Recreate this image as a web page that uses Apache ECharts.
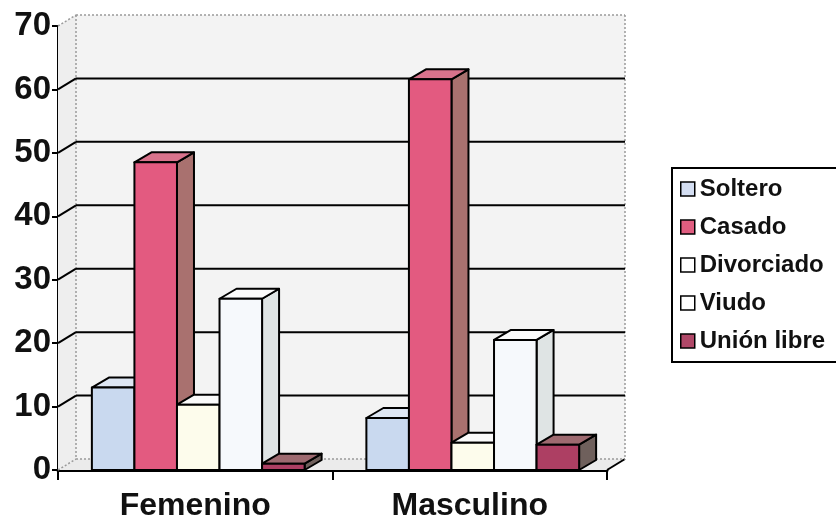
<!DOCTYPE html>
<html>
<head>
<meta charset="utf-8">
<script src="https://cdn.jsdelivr.net/npm/echarts@6/dist/echarts.min.js"></script>
<style>html,body{margin:0;padding:0;background:#fff;}#c{width:836px;height:525px;}</style>
</head>
<body>
<div id="c"></div>
<script>
const categories = ['Femenino', 'Masculino'];
const seriesNames = ['Soltero', 'Casado', 'Divorciado', 'Viudo', 'Unión libre'];
const soltero = [13, 8.2];
const casado = [48.5, 61.6];
const divorciado = [10.3, 4.3];
const viudo = [27, 20.5];
const unionLibre = [1, 4];
const yTicks = [0, 10, 20, 30, 40, 50, 60, 70];

const seriesValues = [soltero, casado, divorciado, viudo, unionLibre];
const faceColors = [
  {front: '#c9d9ef', top: '#dde6f3', side: '#b8c6d8', legend: '#d4def2'},
  {front: '#e35a80', top: '#d9738c', side: '#a9716f', legend: '#e05d80'},
  {front: '#fdfcec', top: '#fafafa', side: '#e6e6e6', legend: '#ffffff'},
  {front: '#f6f9fc', top: '#fbfbfb', side: '#dfe4e4', legend: '#ffffff'},
  {front: '#ad3f63', top: '#9e6a70', side: '#6f605c', legend: '#b04868'}
];
const WDX = 18, WDY = -11; // wall depth
const BDX = 17, BDY = -10; // bar depth

const chart = echarts.init(document.getElementById('c'));

function wallRender(params, api) {
  const cs = params.coordSys;
  const x0 = cs.x, x1 = cs.x + cs.width, yt = cs.y, yb = cs.y + cs.height;
  const dot = {stroke: '#9a9a9a', lineWidth: 1.5, lineDash: [2, 2]};
  return {type: 'group', children: [
    {type: 'rect', shape: {x: x0 + WDX, y: yt + WDY, width: cs.width, height: cs.height}, style: {fill: '#f3f3f3'}},
    {type: 'polygon', shape: {points: [[x0, yt], [x0 + WDX, yt + WDY], [x0 + WDX, yb + WDY], [x0, yb]]}, style: {fill: '#eeeeee'}},
    {type: 'polygon', shape: {points: [[x0, yb], [x1, yb], [x1 + WDX, yb + WDY], [x0 + WDX, yb + WDY]]}, style: {fill: '#ebebeb'}},
    {type: 'line', shape: {x1: x0 + WDX, y1: yt + WDY, x2: x0 + WDX, y2: yb + WDY}, style: dot},
    {type: 'line', shape: {x1: x1 + WDX, y1: yt + WDY, x2: x1 + WDX, y2: yb + WDY}, style: dot},
    {type: 'line', shape: {x1: x1, y1: yb, x2: x1 + WDX, y2: yb + WDY}, style: {stroke: '#000', lineWidth: 2}}
  ]};
}

function gridRender(params, api) {
  const cs = params.coordSys;
  const v = api.value(1);
  const p = api.coord([0, v]);
  const x0 = cs.x, x1 = cs.x + cs.width, y = p[1];
  const edge = (v === yTicks[0] || v === yTicks[yTicks.length - 1]);
  const st = edge ? {stroke: '#9a9a9a', lineWidth: 1.5, lineDash: [2, 2]} : {stroke: '#000', lineWidth: 2};
  return {type: 'group', children: [
    {type: 'line', shape: {x1: x0, y1: y, x2: x0 + WDX, y2: y + WDY}, style: st},
    {type: 'line', shape: {x1: x0 + WDX, y1: y + WDY, x2: x1 + WDX, y2: y + WDY}, style: st}
  ]};
}

function barRender(si) {
  return function (params, api) {
    const ci = api.value(0), v = api.value(1);
    const band = api.size([1, 0])[0];
    const base = api.coord([ci, 0]);
    const topP = api.coord([ci, v]);
    const bw = band * 0.155;
    const left = base[0] - 2.5 * bw + 3 + si * bw;
    const right = left + bw;
    const yb = base[1], yt = topP[1];
    const c = faceColors[si];
    const ln = {stroke: '#000', lineWidth: 2, lineJoin: 'round'};
    return {type: 'group', children: [
      {type: 'polygon', shape: {points: [[right, yt], [right + BDX, yt + BDY], [right + BDX, yb + BDY], [right, yb]]}, style: Object.assign({fill: c.side}, ln)},
      {type: 'polygon', shape: {points: [[left, yt], [right, yt], [right + BDX, yt + BDY], [left + BDX, yt + BDY]]}, style: Object.assign({fill: c.top}, ln)},
      {type: 'rect', shape: {x: left, y: yt, width: bw, height: yb - yt}, style: Object.assign({fill: c.front}, ln)}
    ]};
  };
}

const series = [
  {type: 'custom', name: '_walls', renderItem: wallRender, data: [[0, 0]], silent: true, z: 1},
  {type: 'custom', name: '_grid', renderItem: gridRender, data: yTicks.map(t => [0, t]), silent: true, z: 2}
];
seriesNames.forEach((n, si) => {
  series.push({
    type: 'custom', name: n, renderItem: barRender(si), z: 3,
    itemStyle: {color: faceColors[si].legend},
    data: categories.map((c, ci) => [ci, seriesValues[si][ci]])
  });
});

chart.setOption({
  animation: false,
  grid: {left: 58, right: 229, top: 26, bottom: 55},
  legend: {
    orient: 'vertical', left: 672, top: 168,
    padding: [9, 40, 9, 8],
    borderColor: '#000', borderWidth: 2, backgroundColor: '#fff',
    itemWidth: 14, itemHeight: 14, itemGap: 14,
    textStyle: {fontFamily: 'Liberation Sans, Arial, sans-serif', fontWeight: 'bold', fontSize: 24, color: '#111', lineHeight: 24},
    data: seriesNames.map((n, si) => ({name: n, icon: 'rect', itemStyle: {color: faceColors[si].legend, borderColor: '#000', borderWidth: 1.5}}))
  },
  xAxis: {
    type: 'category', data: categories,
    axisLine: {lineStyle: {color: '#000', width: 3}},
    axisTick: {show: true, length: 10, lineStyle: {color: '#000', width: 2}},
    axisLabel: {margin: 20, fontFamily: 'Liberation Sans, Arial, sans-serif', fontWeight: 'bold', fontSize: 32, color: '#111'},
    splitLine: {show: false}
  },
  yAxis: {
    type: 'value', min: 0, max: 70, interval: 10,
    axisLine: {show: true, lineStyle: {color: '#000', width: 2}},
    axisTick: {show: true, length: 6, lineStyle: {color: '#000', width: 2}},
    axisLabel: {margin: 7, fontFamily: 'Liberation Sans, Arial, sans-serif', fontWeight: 'bold', fontSize: 33, color: '#111'},
    splitLine: {show: false}
  },
  series: series
});
</script>
</body>
</html>
